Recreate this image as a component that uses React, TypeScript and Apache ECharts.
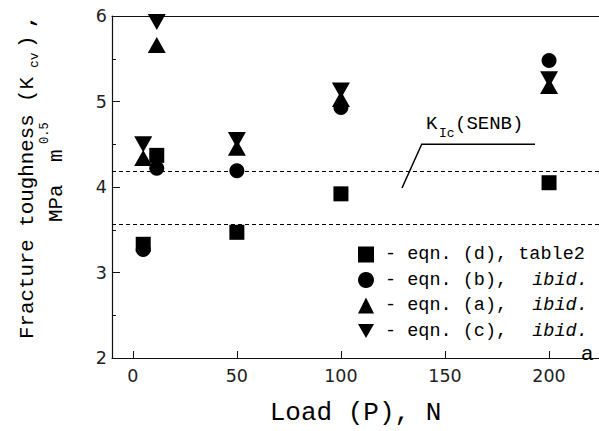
import React, { useEffect, useRef } from "react";
import * as echarts from "echarts";

const loads = [5, 11.5, 50, 100, 200];
const eqnD = [3.33, 4.37, 3.47, 3.92, 4.05];
const eqnB = [3.27, 4.22, 4.19, 4.93, 5.48];
const eqnA = [4.34, 5.66, 4.46, 5.03, 5.18];
const eqnC = [4.5, 5.93, 4.55, 5.13, 5.26];
const xTicks = [0, 50, 100, 150, 200];
const refLines = [4.18, 3.57];
const seriesNames = [
  "eqn. (d), table2",
  "eqn. (b), ibid.",
  "eqn. (a), ibid.",
  "eqn. (c), ibid.",
];
const seriesValues = [eqnD, eqnB, eqnA, eqnC];
const symbols = ["rect", "circle", "triangle", "triangle"];
const symbolRotations = [0, 0, 0, 180];
const legendIcons = ["rect", "circle", "triangle", "path://M0,0L18,0L9,16Z"];

const MONO = "'Liberation Mono', 'Courier New', monospace";
const SANS = "'DejaVu Sans', sans-serif";

export default function App() {
  const ref = useRef<HTMLDivElement>(null);
  useEffect(() => {
    if (!ref.current) return;
    const chart = echarts.init(ref.current, null, { renderer: "svg" });
    const sizes: any[] = [15, 15, [18, 16], [18, 16]];
    const series: any[] = seriesNames.map((name, i) => ({
      name,
      type: "scatter",
      symbol: symbols[i],
      symbolRotate: symbolRotations[i],
      symbolSize: sizes[i],
      itemStyle: { color: "#000", opacity: 1 },
      data: loads.map((x, j) => [x, seriesValues[i][j]]),
      silent: true,
      z: 3 + i,
      markLine:
        i === 0
          ? {
              silent: true,
              symbol: "none",
              label: { show: false },
              lineStyle: { color: "#000", width: 1, type: [4, 3] },
              emphasis: { disabled: true },
              data: refLines.map((v) => ({ yAxis: v })),
            }
          : undefined,
    }));

    chart.setOption({
      animation: false,
      grid: { left: 112, top: 16, right: 0, bottom: 69 },
      legend: {
        orient: "vertical",
        left: 358,
        top: 245,
        padding: 0,
        itemWidth: 16,
        itemHeight: 16,
        itemGap: 6.5,
        selectedMode: false,
        data: seriesNames.map((name, i) => ({ name, icon: legendIcons[i] })),
        formatter: (name: string) => {
          const k = name.indexOf("ibid.");
          if (k >= 0) return `{n|- ${name.slice(0, k)}}{i|ibid.}`;
          return `{n|- ${name}}`;
        },
        textStyle: {
          fontFamily: MONO,
          fontSize: 18.5,
          color: "#000",
          rich: {
            n: { fontFamily: MONO, fontSize: 18.5, color: "#000", padding: [0, 0, 0, 6] },
            i: {
              fontFamily: MONO,
              fontSize: 18.5,
              fontStyle: "italic",
              color: "#000",
              padding: [0, 0, 0, 14],
            },
          },
        },
      },
      xAxis: [
        {
          type: "value",
          min: -10,
          max: 224,
          name: "Load (P), N",
          nameLocation: "middle",
          nameGap: 42,
          nameTextStyle: { fontFamily: MONO, fontSize: 26, color: "#000" },
          axisLine: { show: true, onZero: false, lineStyle: { color: "#111", width: 1.2 } },
          axisTick: {
            show: true,
            inside: true,
            length: 7,
            customValues: xTicks,
            lineStyle: { color: "#111", width: 1 },
          },
          axisLabel: {
            customValues: xTicks,
            margin: 9,
            fontFamily: SANS,
            fontSize: 17.5,
            color: "#222",
          },
          splitLine: { show: false },
        },
        {
          type: "value",
          position: "top",
          min: -10,
          max: 224,
          axisLine: { show: true, onZero: false, lineStyle: { color: "#111", width: 1.2 } },
          axisTick: { show: false },
          axisLabel: { show: false },
          splitLine: { show: false },
        },
      ],
      yAxis: {
        type: "value",
        min: 2,
        max: 6,
        interval: 1,
        axisLine: { show: true, onZero: false, lineStyle: { color: "#111", width: 1.2 } },
        axisTick: { show: true, inside: true, length: 8, lineStyle: { color: "#111", width: 1 } },
        minorTick: {
          show: true,
          splitNumber: 2,
          length: 4,
          lineStyle: { color: "#111", width: 1 },
        },
        axisLabel: { margin: 5, fontFamily: SANS, fontSize: 17.5, color: "#222" },
        splitLine: { show: false },
      },
      graphic: [
        {
          type: "group",
          x: 27,
          y: 339,
          rotation: Math.PI / 2,
          children: [
            {
              type: "text",
              x: 0,
              y: 0,
              style: {
                text: "Fracture toughness (K",
                font: `20.8px ${MONO}`,
                fill: "#000",
                align: "left",
                verticalAlign: "middle",
              },
            },
            {
              type: "text",
              x: 271,
              y: 7,
              style: {
                text: "cv",
                font: `13px ${MONO}`,
                fill: "#000",
                align: "left",
                verticalAlign: "middle",
              },
            },
            {
              type: "text",
              x: 291,
              y: 0,
              style: {
                text: ")",
                font: `20.8px ${MONO}`,
                fill: "#000",
                align: "left",
                verticalAlign: "middle",
              },
            },
            {
              type: "text",
              x: 311,
              y: 0,
              style: {
                text: ",",
                font: `bold 20.8px ${MONO}`,
                fill: "#000",
                align: "left",
                verticalAlign: "middle",
              },
            },
          ],
        },
        {
          type: "group",
          x: 56.5,
          y: 222,
          rotation: Math.PI / 2,
          children: [
            {
              type: "text",
              x: 0,
              y: 0,
              style: {
                text: "MPa",
                font: `20.8px ${MONO}`,
                fill: "#000",
                align: "left",
                verticalAlign: "middle",
              },
            },
            {
              type: "text",
              x: 60,
              y: 0,
              style: {
                text: "m",
                font: `20.8px ${MONO}`,
                fill: "#000",
                align: "left",
                verticalAlign: "middle",
              },
            },
            {
              type: "text",
              x: 78,
              y: -11.5,
              style: {
                text: "0.5",
                font: `12px ${MONO}`,
                fill: "#000",
                align: "left",
                verticalAlign: "middle",
              },
            },
          ],
        },
        {
          type: "polyline",
          shape: { points: [[402, 188], [421.7, 144.3], [535, 144.3]] },
          style: { stroke: "#000", lineWidth: 1.5, fill: null },
          silent: true,
        },
        {
          type: "text",
          x: 426,
          y: 123.5,
          style: {
            text: "K",
            font: `19px ${MONO}`,
            fill: "#000",
            align: "left",
            verticalAlign: "middle",
          },
        },
        {
          type: "text",
          x: 439,
          y: 133.5,
          style: {
            text: "Ic",
            font: `13px ${MONO}`,
            fill: "#000",
            align: "left",
            verticalAlign: "middle",
          },
        },
        {
          type: "text",
          x: 455,
          y: 123.5,
          style: {
            text: "(SENB)",
            font: `19px ${MONO}`,
            fill: "#000",
            align: "left",
            verticalAlign: "middle",
          },
        },
        {
          type: "text",
          x: 587,
          y: 352.5,
          style: {
            text: "a",
            font: `21px 'Liberation Sans', sans-serif`,
            fill: "#000",
            align: "center",
            verticalAlign: "middle",
          },
        },
      ],
      series,
    });
    return () => chart.dispose();
  }, []);
  return (
    <div
      ref={ref}
      style={{ position: "fixed", left: 0, top: 0, width: 599, height: 431, background: "#fff" }}
    />
  );
}
